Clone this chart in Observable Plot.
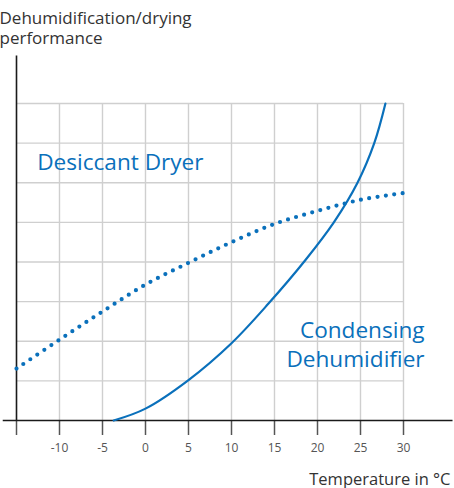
<!DOCTYPE html>
<html>
<head>
<meta charset="utf-8">
<script src="https://cdn.jsdelivr.net/npm/d3@7"></script>
<script src="https://cdn.jsdelivr.net/npm/@observablehq/plot@0.6"></script>
<style>
  html, body { margin: 0; padding: 0; background: #fff; }
  #chart { width: 454px; height: 488px; overflow: hidden; }
  svg { font-family: "Open Sans", sans-serif; }
</style>
</head>
<body>
<div id="chart"></div>
<script>
// ---- data ----
const temps = [-15, -10, -5, 0, 5, 10, 15, 20, 25, 30];
const desiccant = [1.31, 2.04, 2.75, 3.43, 3.98, 4.5, 4.96, 5.29, 5.57, 5.74];
const condTemps = [-3.7, 0, 5, 10, 14.3, 18.6, 21.9, 24.65, 26.6, 27.9];
const condensing = [0, 0.3, 1.02, 1.95, 2.95, 4.05, 5.0, 6.0, 7.0, 8.0];
const xTicks = [-15, -10, -5, 0, 5, 10, 15, 20, 25, 30];
const xTickLabels = ["", "-10", "-5", "0", "5", "10", "15", "20", "25", "30"];
const yGrid = [1, 2, 3, 4, 5, 6, 7, 8];
const leftLabels = [{text: "Desiccant Dryer", x: -12.6, y: 6.31}];
const rightLabels = [
  {text: "Condensing", x: 32.45, y: 2.09},
  {text: "Dehumidifier", x: 32.45, y: 1.34}
];
const yTitle1 = "Dehumidification/drying";
const yTitle2 = "performance";
const xTitle = "Temperature in °C";

const blue = "#0a70bb";
const desiccantData = temps.map((t, i) => ({t, v: desiccant[i]}));
const condensingData = condTemps.map((t, i) => ({t, v: condensing[i]}));

const plot = Plot.plot({
  width: 454,
  height: 488,
  marginLeft: 16,
  marginRight: 51,
  marginTop: 103,
  marginBottom: 68,
  x: {domain: [-15, 30], axis: null},
  y: {domain: [0, 8], axis: null},
  marks: [
    Plot.gridX(xTicks.slice(1), {stroke: "#cfcfcf", strokeOpacity: 1, strokeWidth: 1.4}),
    Plot.gridY(yGrid, {stroke: "#cfcfcf", strokeOpacity: 1, strokeWidth: 1.4}),
    Plot.axisX(xTicks, {
      anchor: "bottom",
      tickSize: 15,
      tickPadding: 8,
      stroke: "#555",
      strokeWidth: 1.5,
      fill: "#555",
      fontSize: 12,
      tickFormat: (d) => xTickLabels[xTicks.indexOf(d)],
      label: null
    }),
    Plot.link([0], {x1: -16.6, x2: 35.7, y1: 0, y2: 0, stroke: "#1a1a1a", strokeWidth: 1.6, ariaLabel: "axis-arrow"}),
    Plot.link([0], {x1: -15, x2: -15, y1: 0, y2: 9.21, stroke: "#1a1a1a", strokeWidth: 1.6, ariaLabel: "axis-arrow"}),
    Plot.line(condensingData, {x: "t", y: "v", curve: "catmull-rom", stroke: blue, strokeWidth: 2.2}),
    Plot.line(desiccantData, {x: "t", y: "v", curve: "catmull-rom", stroke: blue, strokeWidth: 4.2,
      strokeDasharray: "0 8.4", strokeLinecap: "round"}),
    Plot.text(leftLabels, {x: "x", y: "y", text: "text", textAnchor: "start", lineAnchor: "bottom",
      fill: blue, fontSize: 22.6}),
    Plot.text(rightLabels, {x: "x", y: "y", text: "text", textAnchor: "end", lineAnchor: "bottom",
      fill: blue, fontSize: 22.6}),
    Plot.text([yTitle1], {frameAnchor: "top-left", dx: -17, dy: -80, textAnchor: "start", lineAnchor: "bottom",
      fill: "#333", fontSize: 17}),
    Plot.text([yTitle2], {frameAnchor: "top-left", dx: -17, dy: -59.5, textAnchor: "start", lineAnchor: "bottom",
      fill: "#333", fontSize: 17}),
    Plot.text([xTitle], {frameAnchor: "bottom-right", dx: 47, dy: 64, textAnchor: "end", lineAnchor: "bottom",
      fill: "#333", fontSize: 16.5})
  ]
});

// filled arrowheads for the two axis lines
const svg = d3.select(plot);
const marker = svg.insert("defs", ":first-child").append("marker")
  .attr("id", "axis-head")
  .attr("viewBox", "0 0 13 10")
  .attr("refX", 12)
  .attr("refY", 5)
  .attr("markerWidth", 13)
  .attr("markerHeight", 10)
  .attr("markerUnits", "userSpaceOnUse")
  .attr("orient", "auto");
marker.append("path").attr("d", "M0,0L13,5L0,10Z").attr("fill", "#1a1a1a");
svg.selectAll('g[aria-label="axis-arrow"] path').attr("marker-end", "url(#axis-head)");

document.getElementById("chart").append(plot);
</script>
</body>
</html>
